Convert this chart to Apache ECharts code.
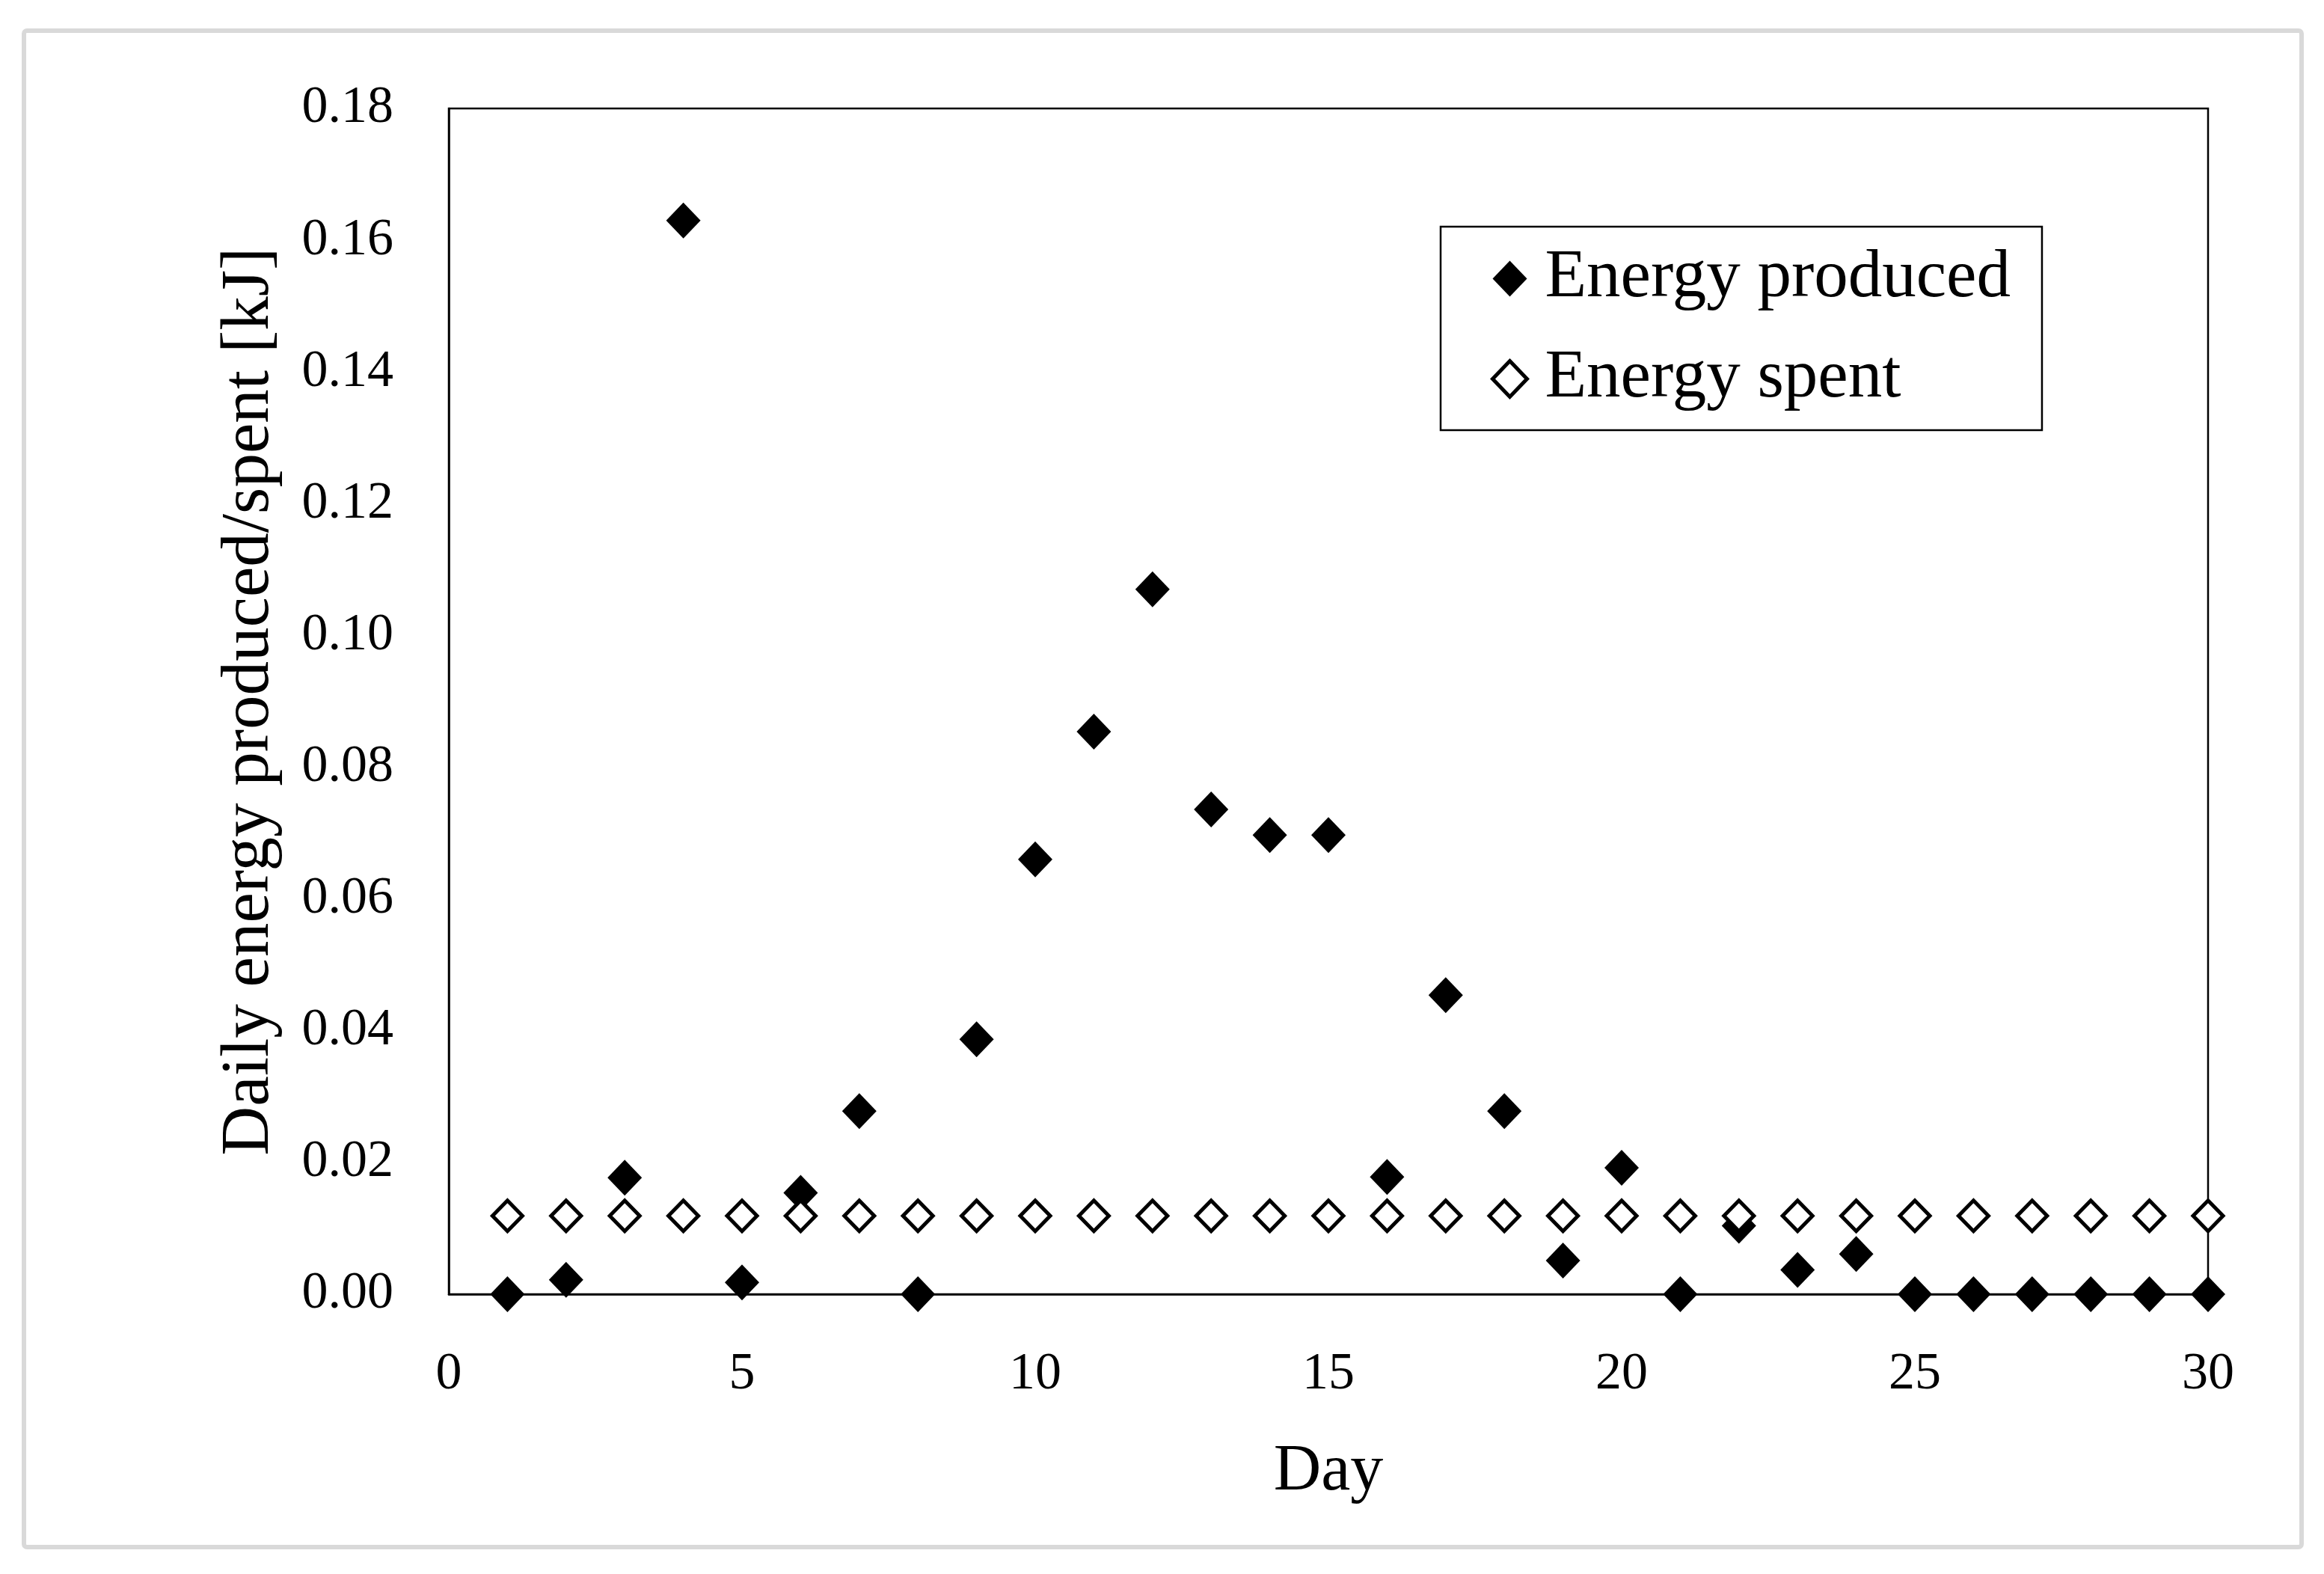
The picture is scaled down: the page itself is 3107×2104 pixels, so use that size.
<!DOCTYPE html>
<html>
<head>
<meta charset="utf-8">
<script src="https://cdn.jsdelivr.net/npm/echarts@6/dist/echarts.min.js"></script>
<style>
html,body{margin:0;padding:0;background:#fff;}
#chart{width:3107px;height:2104px;}
</style>
</head>
<body>
<div id="chart"></div>
<script>
// Data
const days = [1,2,3,4,5,6,7,8,9,10,11,12,13,14,15,16,17,18,19,20,21,22,23,24,25,26,27,28,29,30];
const energyProduced = [0.0000,0.0022,0.0177,0.1630,0.0018,0.0154,0.0278,0.0000,0.0387,0.0660,0.0854,0.1070,0.0736,0.0697,0.0697,0.0178,0.0454,0.0278,0.0051,0.0192,0.0000,0.0104,0.0037,0.0061,0.0000,0.0000,0.0000,0.0000,0.0000,0.0000];
const energySpent = [0.0119,0.0119,0.0119,0.0119,0.0119,0.0119,0.0119,0.0119,0.0119,0.0119,0.0119,0.0119,0.0119,0.0119,0.0119,0.0119,0.0119,0.0119,0.0119,0.0119,0.0119,0.0119,0.0119,0.0119,0.0119,0.0119,0.0119,0.0119,0.0119,0.0119];
const seriesNames = ['Energy produced', 'Energy spent'];
const xTitle = 'Day';
const yTitle = 'Daily energy produced/spent [kJ]';

const FONT = '"Liberation Serif", "Times New Roman", serif';
const chart = echarts.init(document.getElementById('chart'), null, {renderer: 'canvas'});

const option = {
  backgroundColor: '#ffffff',
  animation: false,
  textStyle: {fontFamily: FONT, color: '#000'},
  graphic: [{
    type: 'rect',
    shape: {x: 32, y: 41, width: 3045, height: 2027, r: 4},
    style: {fill: 'none', stroke: '#d9d9d9', lineWidth: 6},
    z: -10
  }],
  grid: {
    left: 600, top: 145, right: 155, bottom: 374,
    show: true, borderColor: '#000', borderWidth: 2.5, backgroundColor: 'transparent'
  },
  legend: {
    orient: 'vertical',
    left: 1926, top: 303,
    padding: [24, 42, 23, 67],
    itemGap: 43,
    itemWidth: 46, itemHeight: 48,
    borderColor: '#000', borderWidth: 2.5,
    backgroundColor: '#fff',
    textStyle: {fontFamily: FONT, fontSize: 91, color: '#000', lineHeight: 90, padding: [0, 0, 0, 19]},
    data: [
      {name: seriesNames[0], icon: 'diamond', itemStyle: {color: '#000', borderWidth: 0}},
      {name: seriesNames[1], icon: 'diamond', itemStyle: {color: '#fff', borderColor: '#000', borderWidth: 5}}
    ]
  },
  xAxis: {
    type: 'value', min: 0, max: 30, interval: 5,
    name: xTitle, nameLocation: 'middle', nameGap: 194,
    nameTextStyle: {fontFamily: FONT, fontSize: 88, color: '#000'},
    axisLine: {show: true, lineStyle: {color: '#000', width: 2.5}},
    axisTick: {show: false},
    splitLine: {show: false},
    axisLabel: {fontFamily: FONT, fontSize: 70, color: '#000', margin: 73}
  },
  yAxis: {
    type: 'value', min: 0, max: 0.18, interval: 0.02,
    name: yTitle, nameLocation: 'middle', nameGap: 220,
    nameTextStyle: {fontFamily: FONT, fontSize: 91, color: '#000'},
    axisLine: {show: true, lineStyle: {color: '#000', width: 2.5}},
    axisTick: {show: false},
    splitLine: {show: false},
    axisLabel: {fontFamily: FONT, fontSize: 70, color: '#000', margin: 74,
      formatter: v => v.toFixed(2)}
  },
  series: [
    {
      name: seriesNames[0], type: 'scatter', clip: false,
      symbol: 'diamond', symbolSize: [46, 48],
      itemStyle: {color: '#000', opacity: 1},
      data: days.map((d, i) => [d, energyProduced[i]])
    },
    {
      name: seriesNames[1], type: 'scatter', clip: false,
      symbol: 'diamond', symbolSize: [40, 41],
      itemStyle: {color: '#fff', borderColor: '#000', borderWidth: 5, opacity: 1},
      data: days.map((d, i) => [d, energySpent[i]])
    }
  ]
};
chart.setOption(option);
</script>
</body>
</html>
